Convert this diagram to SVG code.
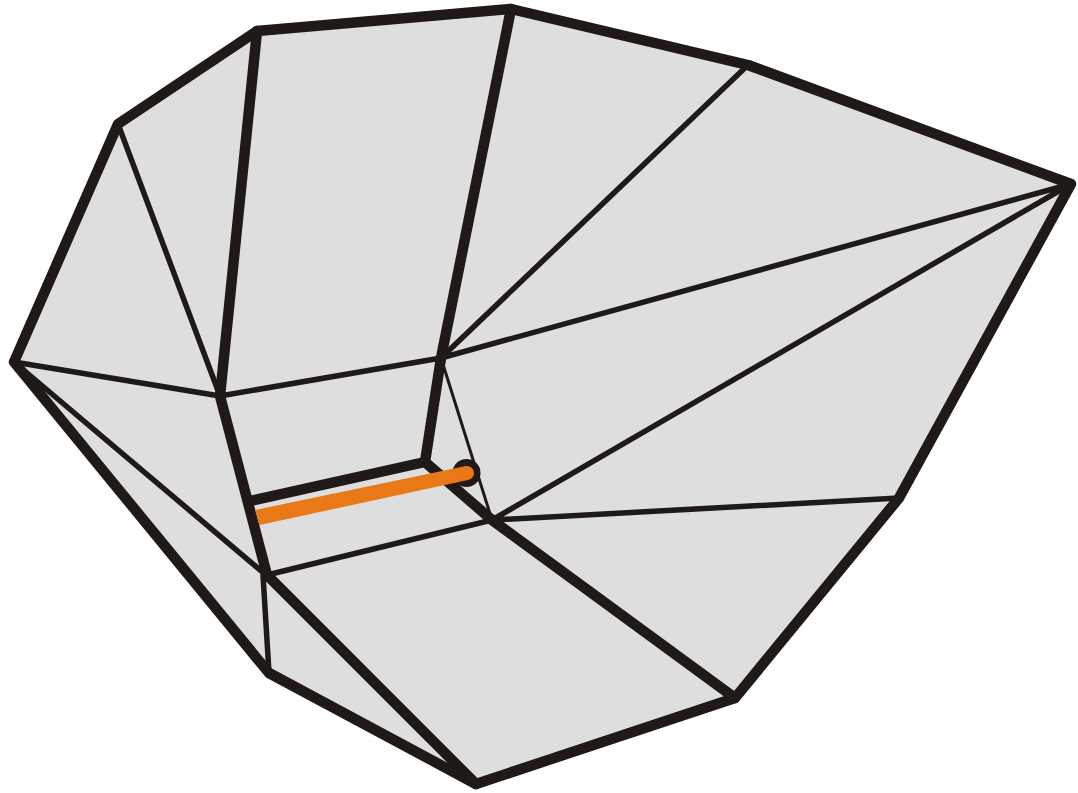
<svg xmlns="http://www.w3.org/2000/svg" width="1078" height="793" viewBox="0 0 1078 793">
<style>
.l{fill:none;stroke:#1f1a17;stroke-linecap:round;stroke-linejoin:round}
.a{stroke-width:10.5}.b{stroke-width:5.5}.c{stroke-width:3}
.o{fill:#e97817}
</style>
<polygon points="14,362 118,124 257,31 511,9 748,65 1071,184 899,498 735,698 476,784 269,673" fill="#dedede"/>
<g id="connectors">
<polygon class="l a" points="14,362 118,124 257,31 511,9 748,65 1071,184 899,498 735,698 476,784 269,673"/>
<path class="l a" d="M257,31L220,396L267,575L476,784M511,9L441,358L425,462L250,501M425,462L492,520L735,698"/>
<path class="l b" d="M118,124L220,396M14,362L220,396L441,358L748,65M441,358L1071,184M492,520L1071,184M492,520L899,498M492,520L267,575M14,362L266,575M263,575L269,673"/>
<path class="l c" d="M441,358L492,520"/>
<circle cx="466.500" cy="473" r="14" fill="#1f1a17"/>
<polygon class="o" points="255,510 466,466 468,480 259.500,525"/>
<circle class="o" cx="467" cy="473" r="7"/>
</g>
</svg>
